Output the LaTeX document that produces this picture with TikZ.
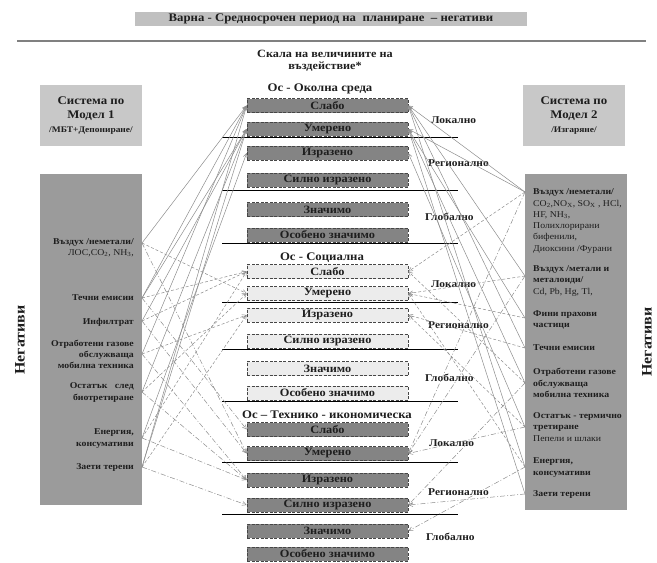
\documentclass[tikz,border=0pt]{standalone}
\usepackage{fontspec}
\setmainfont{Liberation Serif}[FakeStretch=1.1]
\usetikzlibrary{arrows.meta}
\definecolor{envfill}{RGB}{132,132,132}
\definecolor{socfill}{RGB}{236,236,236}
\definecolor{bigfill}{RGB}{155,155,155}
\definecolor{modelfill}{RGB}{200,200,200}
\definecolor{titlefill}{RGB}{192,192,192}
\definecolor{boxborder}{RGB}{70,70,70}
\definecolor{conn}{RGB}{140,140,140}
\definecolor{txt}{RGB}{30,30,30}
\begin{document}
\begin{tikzpicture}[x=1pt,y=-1pt,
  every node/.style={text=txt},
  scalebox/.style={draw=boxborder, dash pattern=on 3pt off 1.5pt, line width=0.6pt,
    minimum width=161pt, minimum height=14pt, inner sep=0pt,
    font=\bfseries\fontsize{11.2}{12}\selectfont},
  envbox/.style={scalebox, fill=envfill},
  socbox/.style={scalebox, fill=socfill},
  techbox/.style={scalebox, fill=envfill},
  axislabel/.style={font=\bfseries\fontsize{11.6}{12.5}\selectfont, inner sep=0pt},
  reach/.style={font=\bfseries\fontsize{10.4}{12}\selectfont, anchor=west, inner sep=0pt},
  sepline/.style={draw=black, line width=0.6pt},
  lefttxt/.style={font=\bfseries\fontsize{8.9}{11.3}\selectfont, align=right, anchor=east, inner sep=0pt},
  righttxt/.style={font=\bfseries\fontsize{8.9}{11.3}\selectfont, align=left, anchor=west, inner sep=0pt},
  conbase/.style={draw=conn, line width=0.5pt, -{Straight Barb[length=4pt,width=4pt]}},
  envcon/.style={conbase},
  soccon/.style={conbase, dash pattern=on 3pt off 2pt},
  techcon/.style={conbase, dash pattern=on 5pt off 2pt on 1pt off 2pt},
  negtxt/.style={font=\bfseries\fontsize{14.5}{16}\selectfont, rotate=90, inner sep=0pt}
]
\useasboundingbox (0,0) rectangle (657,563);

% title
\node[fill=titlefill, minimum width=392pt, minimum height=14pt, inner sep=0pt,
  font=\bfseries\fontsize{11.6}{12}\selectfont] (title) at (331,19)
  {Варна - Средносрочен период на \ планиране \ – негативи};
\coordinate (hl1) at (17,41);
\coordinate (hl2) at (646,41);
\draw[draw=gray, line width=1.5pt] (hl1) -- (hl2);

% scale heading
\node[axislabel, font=\bfseries\fontsize{11.1}{12}\selectfont, align=center] (scale) at (325,61) {Скала на величините на\\въздействие*};

% model boxes
\node[fill=modelfill, minimum width=102pt, minimum height=61pt, inner sep=0pt, align=center,
  font=\bfseries\fontsize{11.7}{14.5}\selectfont] (m1) at (91,115.5)
  {Система по\\Модел 1\\[-1pt]{\fontsize{8.6}{11}\selectfont /МБТ+Депониране/}};
\node[fill=modelfill, minimum width=102pt, minimum height=61pt, inner sep=0pt, align=center,
  font=\bfseries\fontsize{11.7}{14.5}\selectfont] (m2) at (574,115.5)
  {Система по\\Модел 2\\[-1pt]{\fontsize{8.6}{11}\selectfont /Изгаряне/}};

% big boxes
\node[fill=bigfill, minimum width=102pt, minimum height=331pt, inner sep=0pt] (lb) at (91,339.5) {};
\node[fill=bigfill, minimum width=102pt, minimum height=336pt, inner sep=0pt] (rb) at (576,342) {};

\node[negtxt] (negl) at (20,340) {Негативи};
\node[negtxt] (negr) at (647,342) {Негативи};

% left items
\node[lefttxt] (l1) at (134,248) {Въздух /неметали/\\{\mdseries ЛОС,CO\textsubscript{2}, NH\textsubscript{3},}};
\node[lefttxt] (l2) at (134,298) {Течни емисии};
\node[lefttxt] (l3) at (134,322) {Инфилтрат};
\node[lefttxt] (l4) at (134,354.5) {Отработени газове\\обслужваща\\мобилна техника};
\node[lefttxt] (l5) at (134,392.5) {Остатък \ \ след\\биотретиране};
\node[lefttxt] (l6) at (134,438.5) {Енергия,\\консумативи};
\node[lefttxt] (l7) at (134,467) {Заети терени};

% right items
\node[righttxt] (r1) at (533,221) {Въздух /неметали/\\{\mdseries CO\textsubscript{2},NO\textsubscript{X}, SO\textsubscript{X} , HCl,}\\{\mdseries HF, NH\textsubscript{3},}\\{\mdseries Полихлорирани}\\{\mdseries бифенили,}\\{\mdseries Диоксини /Фурани}};
\node[righttxt] (r2) at (533,281) {Въздух /метали и\\металоиди/\\{\mdseries Cd, Pb, Hg, Tl,}};
\node[righttxt] (r3) at (533,320) {Фини прахови\\частици};
\node[righttxt] (r4) at (533,348) {Течни емисии};
\node[righttxt] (r5) at (533,383) {Отработени газове\\обслужваща\\мобилна техника};
\node[righttxt] (r6) at (533,427) {Остатък - термично\\третиране\\{\mdseries Пепели и шлаки}};
\node[righttxt] (r7) at (533,467.5) {Енергия,\\консумативи};
\node[righttxt] (r8) at (533,494) {Заети терени};

% axis: environment
\node[axislabel] (ax1) at (320,89) {Ос - Околна среда};
\node[envbox] (e1) at (327.5,105.5) {Слабо};
\node[envbox] (e2) at (327.5,129) {Умерено};
\node[envbox] (e3) at (327.5,153) {Изразено};
\node[envbox] (e4) at (327.5,180) {Силно изразено};
\node[envbox] (e5) at (327.5,209.5) {Значимо};
\node[envbox] (e6) at (327.5,235) {Особено значимо};

% axis: social
\node[axislabel] (ax2) at (322,258) {Ос - Социална};
\node[socbox] (s1) at (327.5,271.5) {Слабо};
\node[socbox] (s2) at (327.5,293.5) {Умерено};
\node[socbox] (s3) at (327.5,315) {Изразено};
\node[socbox] (s4) at (327.5,341) {Силно изразено};
\node[socbox] (s5) at (327.5,368.5) {Значимо};
\node[socbox] (s6) at (327.5,393) {Особено значимо};

% axis: technical-economic
\node[axislabel] (ax3) at (327,415) {Ос – Технико - икономическа};
\node[techbox] (t1) at (327.5,429.5) {Слабо};
\node[techbox] (t2) at (327.5,453.5) {Умерено};
\node[techbox] (t3) at (327.5,480) {Изразено};
\node[techbox] (t4) at (327.5,505) {Силно изразено};
\node[techbox] (t5) at (327.5,531) {Значимо};
\node[techbox] (t6) at (327.5,554) {Особено значимо};

% separator lines
\foreach \yy in {137,190,243,302,349,401,462,514}{
  \draw[sepline] (222,\yy) -- (458,\yy);
}

% reach labels
\node[reach] (lo1) at (431,120) {Локално};
\node[reach] (re1) at (428,163) {Регионално};
\node[reach] (gl1) at (425,217) {Глобално};
\node[reach] (lo2) at (431,284) {Локално};
\node[reach] (re2) at (428,325) {Регионално};
\node[reach] (gl2) at (425,378) {Глобално};
\node[reach] (lo3) at (429,443) {Локално};
\node[reach] (re3) at (428,492) {Регионално};
\node[reach] (gl3) at (426,537) {Глобално};

% connector anchors on the big boxes
\coordinate (La) at (142,243);
\coordinate (Lb) at (142,298);
\coordinate (Lc) at (142,321);
\coordinate (Ld) at (142,354);
\coordinate (Le) at (142,392);
\coordinate (Lf) at (142,438);
\coordinate (Lg) at (142,467);
\coordinate (Ra) at (525,192);
\coordinate (Rb) at (525,276);
\coordinate (Rc) at (525,318);
\coordinate (Rd) at (525,348);
\coordinate (Re) at (525,383);
\coordinate (Rf) at (525,427);
\coordinate (Rg) at (525,467);
\coordinate (Rh) at (525,494);

% left connectors
\foreach \s/\t in {La/e1,Lb/e1,Lb/e2,Lc/e2,Ld/e1,Le/e2,Lf/e3,Lg/e2,Lg/e1}
  \draw[envcon] (\s) -- (\t.west);
\foreach \s/\t in {La/s2,Lb/s1,Lc/s1,Ld/s3,Le/s2,Lf/s1,Lg/s3}
  \draw[soccon] (\s) -- (\t.west);
\foreach \s/\t in {La/t2,Lb/t1,Lc/t2,Ld/t3,Le/t3,Lf/t3,Lg/t4}
  \draw[techcon] (\s) -- (\t.west);

% right connectors
\foreach \s/\t in {Ra/e1,Ra/e2,Rb/e1,Rc/e2,Rd/e1,Re/e2,Rf/e3,Rg/e1,Rh/e2}
  \draw[envcon] (\s) -- (\t.east);
\foreach \s/\t in {Ra/s1,Rb/s2,Rc/s2,Rd/s3,Re/s1,Rf/s3,Rg/s2}
  \draw[soccon] (\s) -- (\t.east);
\foreach \s/\t in {Ra/t2,Rb/t2,Re/t4,Rf/t2,Rg/t5,Rh/t4}
  \draw[techcon] (\s) -- (\t.east);
\end{tikzpicture}
\end{document}
